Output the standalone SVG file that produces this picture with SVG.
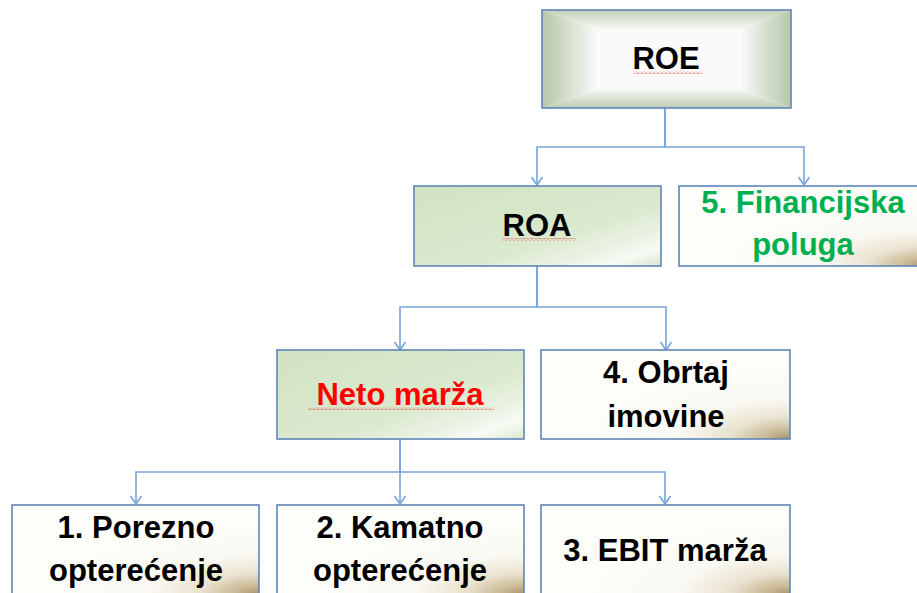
<svg xmlns="http://www.w3.org/2000/svg" width="917" height="593" viewBox="0 0 917 593">
<style>
.box{stroke:#5f86b8;stroke-width:1.6}
.t{font-family:"Liberation Sans",Arial,sans-serif;font-weight:bold;font-size:31px;text-anchor:middle;fill:#000}
.conn path{fill:none;stroke:#77a4da;stroke-width:1.6}
</style>
<defs>
<marker id="arr" markerUnits="userSpaceOnUse" markerWidth="14" markerHeight="14" refX="0" refY="0" viewBox="-10 -7 12 14" orient="auto" overflow="visible">
<path d="M-8,-5.5 L0,0 L-8,5.5" fill="none" stroke="#77a4da" stroke-width="1.6"/>
</marker>
<linearGradient id="green" x1="0" y1="0" x2="1" y2="1">
<stop offset="0" stop-color="#d1e3c2"/>
<stop offset="0.6" stop-color="#dbe9cf"/>
<stop offset="0.8" stop-color="#ecf4e6"/>
<stop offset="0.88" stop-color="#f8fbf5"/>
<stop offset="1" stop-color="#dae7cf"/>
</linearGradient>
<radialGradient id="parch" cx="1" cy="1" r="0.8" fx="1" fy="1">
<stop offset="0" stop-color="#a78f66"/>
<stop offset="0.12" stop-color="#c9b893"/>
<stop offset="0.3" stop-color="#e9e2cf"/>
<stop offset="0.55" stop-color="#f9f8f1"/>
<stop offset="1" stop-color="#fdfdfa"/>
</radialGradient>
<linearGradient id="bl" gradientUnits="userSpaceOnUse" x1="542" y1="0" x2="598" y2="0">
<stop offset="0" stop-color="#b6c8ac"/><stop offset="0.5" stop-color="#d6e0d0"/><stop offset="1" stop-color="#fafafa"/>
</linearGradient>
<linearGradient id="br" gradientUnits="userSpaceOnUse" x1="791" y1="0" x2="740" y2="0">
<stop offset="0" stop-color="#b6c8ac"/><stop offset="0.5" stop-color="#d6e0d0"/><stop offset="1" stop-color="#fafafa"/>
</linearGradient>
<linearGradient id="bt" gradientUnits="userSpaceOnUse" x1="0" y1="10" x2="0" y2="30">
<stop offset="0" stop-color="#c0cfb6"/><stop offset="0.5" stop-color="#dde5d7"/><stop offset="1" stop-color="#fafafa"/>
</linearGradient>
<linearGradient id="bb" gradientUnits="userSpaceOnUse" x1="0" y1="108" x2="0" y2="88">
<stop offset="0" stop-color="#bccbb2"/><stop offset="0.5" stop-color="#dae3d4"/><stop offset="1" stop-color="#fafafa"/>
</linearGradient>
<pattern id="wave" width="4" height="3" patternUnits="userSpaceOnUse">
<path d="M0,2.5 L2,0.5 L4,2.5" fill="none" stroke="#e84a4a" stroke-width="0.8"/>
</pattern>
</defs>

<g class="conn" id="connectors">
<path d="M665,108 V147 H537 V185" marker-end="url(#arr)"/>
<path d="M665,108 V147 H804 V185" marker-end="url(#arr)"/>
<path d="M537,266 V307 H400 V350" marker-end="url(#arr)"/>
<path d="M537,266 V307 H666 V350" marker-end="url(#arr)"/>
<path d="M400,439 V472 H136 V504" marker-end="url(#arr)"/>
<path d="M400,439 V504" marker-end="url(#arr)"/>
<path d="M400,472 H665 V504" marker-end="url(#arr)"/>
</g>

<g id="roe">
<rect x="598" y="30" width="142" height="58" fill="#fafafa"/>
<polygon points="542,10 598,30 598,88 542,108" fill="url(#bl)"/>
<polygon points="791,10 740,30 740,88 791,108" fill="url(#br)"/>
<polygon points="542,10 791,10 740,30 598,30" fill="url(#bt)"/>
<polygon points="542,108 791,108 740,88 598,88" fill="url(#bb)"/>
<rect class="box" x="542" y="10" width="249" height="98" fill="none"/>
<text class="t" x="666" y="69">ROE</text>
<rect x="634" y="71" width="68" height="3" fill="url(#wave)"/>
</g>

<g id="roa">
<rect class="box" x="414" y="186" width="247" height="80" fill="url(#green)"/>
<text class="t" x="537" y="236">ROA</text>
<rect x="502" y="238" width="74" height="3" fill="url(#wave)"/>
</g>

<g id="financijska">
<rect class="box" x="679" y="186" width="250" height="80" fill="url(#parch)"/>
<text class="t" x="803" y="213" style="fill:#00b050">5. Financijska</text>
<text class="t" x="803" y="255" style="fill:#00b050">poluga</text>
</g>

<g id="neto">
<rect class="box" x="277" y="350" width="247" height="89" fill="url(#green)"/>
<text class="t" x="400" y="405" style="fill:#ff0000">Neto marža</text>
<rect x="308" y="407" width="186" height="3" fill="url(#wave)"/>
</g>

<g id="obrtaj">
<rect class="box" x="541" y="350" width="249" height="89" fill="url(#parch)"/>
<text class="t" x="666" y="383">4. Obrtaj</text>
<text class="t" x="666" y="427">imovine</text>
</g>

<g id="porezno">
<rect class="box" x="12" y="505" width="247" height="90" fill="url(#parch)"/>
<text class="t" x="136" y="538">1. Porezno</text>
<text class="t" x="136" y="581">opterećenje</text>
</g>

<g id="kamatno">
<rect class="box" x="277" y="505" width="247" height="90" fill="url(#parch)"/>
<text class="t" x="400" y="538">2. Kamatno</text>
<text class="t" x="400" y="581">opterećenje</text>
</g>

<g id="ebit">
<rect class="box" x="541" y="505" width="249" height="90" fill="url(#parch)"/>
<text class="t" x="665" y="561">3. EBIT marža</text>
</g>
</svg>
